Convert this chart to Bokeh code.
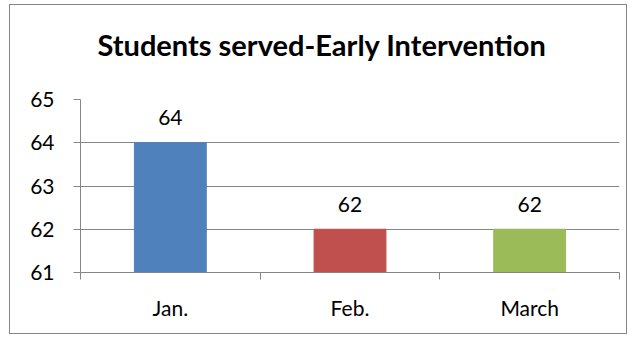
from bokeh.plotting import figure
from bokeh.models import FixedTicker, ColumnDataSource, Range1d, Title
from bokeh.embed import file_html
from bokeh.resources import INLINE

categories = ["Jan.", "Feb.", "March"]
values = [64, 62, 62]
colors = ["#4F81BD", "#C0504D", "#9BBB59"]
y_ticks = [61, 62, 63, 64, 65]
title_text = "Students served-Early Intervention"

FONT = "Lato"
GRAY = "#868686"

xs = [i + 0.5 for i in range(len(categories))]
src = ColumnDataSource(dict(x=xs, top=values, color=colors,
                            label=[str(v) for v in values]))

p = figure(width=618, height=330, output_backend="svg", toolbar_location=None,
           x_range=Range1d(0, len(categories)), y_range=Range1d(y_ticks[0], y_ticks[-1]),
           min_border_left=70, min_border_right=9, min_border_top=94,
           min_border_bottom=63, margin=(4, 0, 0, 9))
p.styles = {"border": "1px solid #868686"}

# spacer between frame and title (closest to the frame)
p.add_layout(Title(text=" ", text_font_size="1px", standoff=30), "above")
p.add_layout(Title(text=title_text, align="left", offset=17, standoff=10,
                   text_font=FONT, text_font_style="bold", text_font_size="29px",
                   text_color="#000000"), "above")

p.vbar(x="x", top="top", bottom=y_ticks[0], width=0.4, color="color", source=src)
p.text(x="x", y="top", text="label", source=src, text_align="center",
       text_baseline="middle", y_offset=-25, text_font_size="21px",
       text_font={"value": FONT}, text_color="#000000")

p.outline_line_color = None
p.xgrid.grid_line_color = None
p.ygrid.grid_line_color = GRAY
p.ygrid.ticker = FixedTicker(ticks=y_ticks)

p.yaxis.ticker = FixedTicker(ticks=y_ticks)
p.yaxis.axis_line_color = GRAY
p.yaxis.major_tick_line_color = GRAY
p.yaxis.major_tick_out = 7
p.yaxis.major_tick_in = 0
p.yaxis.minor_tick_line_color = None
p.yaxis.major_label_standoff = 19
p.yaxis.major_label_text_font = FONT
p.yaxis.major_label_text_font_size = "21px"
p.yaxis.major_label_text_color = "#000000"

p.xaxis.ticker = FixedTicker(ticks=xs, minor_ticks=list(range(len(categories) + 1)))
p.xaxis.major_label_overrides = {x: c for x, c in zip(xs, categories)}
p.xaxis.axis_line_color = GRAY
p.xaxis.major_tick_line_color = None
p.xaxis.major_tick_out = 0
p.xaxis.major_tick_in = 0
p.xaxis.minor_tick_line_color = GRAY
p.xaxis.minor_tick_out = 7
p.xaxis.minor_tick_in = 0
p.xaxis.major_label_standoff = 15
p.xaxis.major_label_text_font = FONT
p.xaxis.major_label_text_font_size = "21px"
p.xaxis.major_label_text_color = "#000000"

open("out.html", "w").write(file_html(p, INLINE))
